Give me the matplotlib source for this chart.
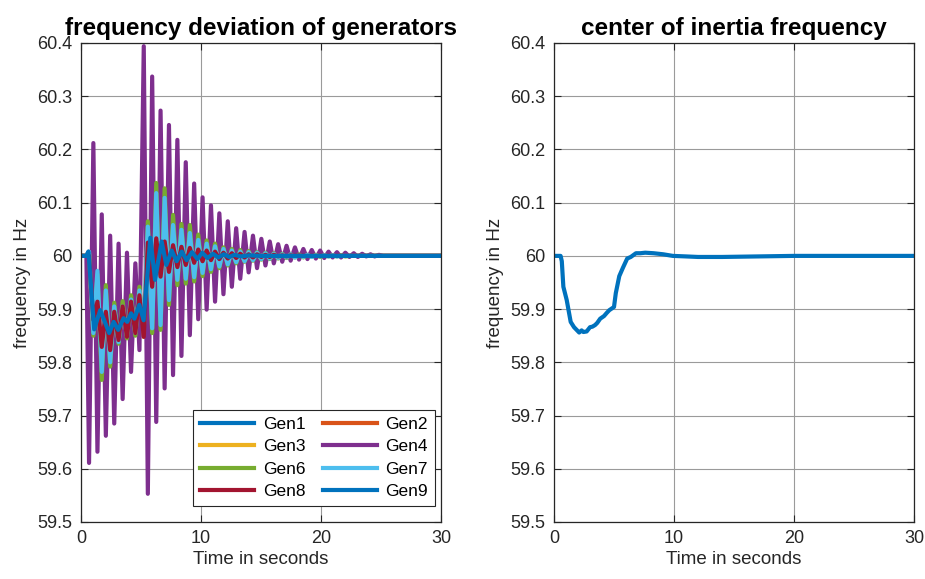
import numpy as np
import matplotlib
matplotlib.use("Agg")
import matplotlib.pyplot as plt

plt.rcParams['font.family'] = ['Liberation Sans', 'DejaVu Sans']

# ---------------- data ----------------
# times of the electromechanical swing extremes (s)
t_hi = [1.03, 1.73, 2.43, 3.13, 3.83, 4.53, 5.23, 5.93, 6.63, 7.33, 8.03, 8.73,
        9.43, 10.13, 10.83, 11.53, 12.23, 12.93, 13.63, 14.33, 15.03, 15.73,
        16.43, 17.13, 17.83, 18.53, 19.23, 19.93, 20.63, 21.33, 22.03, 22.73,
        23.43, 24.13, 24.83]
t_lo = [0.67, 1.37, 2.07, 2.77, 3.47, 4.17, 4.87, 5.57, 6.27, 6.97, 7.67, 8.37,
        9.07, 9.77, 10.47, 11.17, 11.87, 12.57, 13.27, 13.97, 14.67, 15.37,
        16.07, 16.77, 17.47, 18.17, 18.87, 19.57, 20.27, 20.97, 21.67, 22.37,
        23.07, 23.77, 24.47, 25.17]
t_pre = [0.0, 0.45]
f_pre = [60.0, 60.0]
t_end = 30.0

# Gen4 (values at t_hi / t_lo)
gen4_hi = [60.212, 60.078, 60.038, 60.023, 60.006, 59.986, 60.394, 60.337, 60.273,
           60.246, 60.218, 60.176, 60.136, 60.110, 60.095, 60.080, 60.065, 60.052,
           60.045, 60.038, 60.032, 60.027, 60.022, 60.019, 60.016, 60.013, 60.011,
           60.010, 60.008, 60.007, 60.006, 60.005, 60.004, 60.003, 60.002]
gen4_lo = [59.611, 59.632, 59.662, 59.685, 59.731, 59.782, 59.823, 59.553, 59.688,
           59.751, 59.776, 59.812, 59.851, 59.881, 59.899, 59.914, 59.928, 59.942,
           59.957, 59.969, 59.977, 59.982, 59.986, 59.989, 59.991, 59.993, 59.994,
           59.995, 59.996, 59.997, 59.997, 59.998, 59.998, 59.999, 59.999, 60.000]

# Gen6
gen6_hi = [59.850, 59.767, 59.792, 59.835, 59.845, 59.850, 59.858, 59.855, 59.861,
           59.908, 59.945, 59.948, 59.952, 59.962, 59.970, 59.977, 59.982, 59.986,
           59.989, 59.991, 59.993, 59.994, 59.995, 59.996, 59.997, 59.997, 59.998,
           59.998, 59.999, 59.999, 59.999, 60.000, 60.000, 60.000, 60.000]
gen6_lo = [60.005, 59.965, 59.945, 59.912, 59.915, 59.926, 59.942, 60.065, 60.137,
           60.127, 60.077, 60.060, 60.058, 60.040, 60.029, 60.023, 60.016, 60.013,
           60.011, 60.009, 60.007, 60.006, 60.005, 60.004, 60.003, 60.003, 60.002,
           60.002, 60.001, 60.001, 60.001, 60.000, 60.000, 60.000, 60.000, 60.000]

# Gen7
gen7_hi = [59.855, 59.782, 59.800, 59.838, 59.850, 59.855, 59.862, 59.864, 59.870,
           59.917, 59.955, 59.957, 59.960, 59.968, 59.975, 59.980, 59.984, 59.988,
           59.990, 59.992, 59.994, 59.995, 59.996, 59.997, 59.997, 59.998, 59.998,
           59.999, 59.999, 59.999, 60.000, 60.000, 60.000, 60.000, 60.000]
gen7_lo = [60.008, 59.972, 59.935, 59.905, 59.905, 59.918, 59.935, 60.055, 60.118,
           60.109, 60.058, 60.049, 60.043, 60.030, 60.023, 60.018, 60.013, 60.010,
           60.008, 60.007, 60.006, 60.005, 60.004, 60.003, 60.003, 60.002, 60.002,
           60.001, 60.001, 60.001, 60.000, 60.000, 60.000, 60.000, 60.000, 60.000]

# Gen8
gen8_hi = [59.880, 59.829, 59.823, 59.842, 59.848, 59.855, 59.848, 59.942, 59.961,
           59.970, 59.979, 59.983, 59.987, 59.990, 59.992, 59.994, 59.995, 59.996,
           59.997, 59.997, 59.998, 59.998, 59.999, 59.999, 60.000, 60.000, 60.000,
           60.000, 60.000, 60.000, 60.000, 60.000, 60.000, 60.000, 60.000]
gen8_lo = [60.000, 59.914, 59.895, 59.895, 59.905, 59.914, 59.926, 60.025, 60.033,
           60.027, 60.020, 60.017, 60.015, 60.012, 60.010, 60.008, 60.006, 60.005,
           60.004, 60.003, 60.003, 60.002, 60.002, 60.001, 60.001, 60.001, 60.000,
           60.000, 60.000, 60.000, 60.000, 60.000, 60.000, 60.000, 60.000, 60.000]

# Gen2 / Gen3 lie underneath Gen8 in the reference
gen2_hi, gen2_lo = gen8_hi, gen8_lo
gen3_hi, gen3_lo = gen8_hi, gen8_lo

# Gen9 (and Gen1 underneath it)
gen9_t = [0.0, 0.45, 0.62, 1.10, 1.60, 2.35, 2.72, 3.10, 3.55, 3.85, 4.17, 4.45,
          4.86, 5.22, 5.78, 6.17, 6.72, 7.11, 7.56, 7.97, 8.40, 8.80, 9.25, 9.70,
          10.10, 10.55, 11.00, 11.45, 11.90, 12.35, 12.80, 13.30, 14.00, 15.00, 30.0]
gen9_f = [60.000, 60.000, 60.008, 59.862, 59.898, 59.855, 59.876, 59.861, 59.883,
          59.876, 59.892, 59.882, 59.908, 59.879, 60.034, 59.955, 60.027, 59.983,
          60.010, 59.990, 60.008, 59.992, 60.007, 59.994, 60.006, 59.996, 60.004,
          59.997, 60.003, 59.998, 60.002, 59.999, 60.001, 60.000, 60.000]
gen1_t, gen1_f = gen9_t, gen9_f

# centre of inertia frequency
coi_t = [0, 0.55, 0.65, 0.78, 1.06, 1.39, 1.67, 2.1, 2.3, 2.45, 2.72, 3.0, 3.2,
         3.42, 3.6, 3.85, 4.17, 4.4, 4.61, 5.0, 5.15, 5.44, 5.75, 6.1, 6.4, 6.83,
         7.2, 7.6, 8.3, 9.1, 9.9, 11, 12, 14, 17, 20, 25, 30]
coi_f = [60.0, 60.0, 59.99, 59.942, 59.917, 59.876, 59.866, 59.856, 59.86, 59.857,
         59.858, 59.866, 59.867, 59.870, 59.874, 59.882, 59.887, 59.893, 59.898,
         59.904, 59.93, 59.962, 59.978, 59.995, 59.998, 60.005, 60.005, 60.006,
         60.005, 60.003, 60.0, 59.999, 59.998, 59.998, 59.999, 60.0, 60.0, 60.0]

names = ['Gen1', 'Gen2', 'Gen3', 'Gen4', 'Gen6', 'Gen7', 'Gen8', 'Gen9']
colors = ['#0072BD', '#D95319', '#EDB120', '#7E2F8E', '#77AC30', '#4DBEEE',
          '#A2142F', '#0072BD']
yticks = [59.5, 59.6, 59.7, 59.8, 59.9, 60.0, 60.1, 60.2, 60.3, 60.4]
ytick_labels = ['59.5', '59.6', '59.7', '59.8', '59.9', '60', '60.1', '60.2',
                '60.3', '60.4']
xticks = [0, 10, 20, 30]


def swing_series(hi, lo):
    t = np.concatenate([t_pre, t_hi, t_lo, [t_end]])
    f = np.concatenate([f_pre, hi, lo, [60.0]])
    order = np.argsort(t, kind='stable')
    return t[order], f[order]


series = [
    (np.asarray(gen1_t), np.asarray(gen1_f)),
    swing_series(gen2_hi, gen2_lo),
    swing_series(gen3_hi, gen3_lo),
    swing_series(gen4_hi, gen4_lo),
    swing_series(gen6_hi, gen6_lo),
    swing_series(gen7_hi, gen7_lo),
    swing_series(gen8_hi, gen8_lo),
    (np.asarray(gen9_t), np.asarray(gen9_f)),
]

# ---------------- figure ----------------
fig = plt.figure(figsize=(9.25, 5.79), dpi=100)
ax1 = fig.add_axes([81 / 925, 1 - 522 / 579, 360 / 925, 479 / 579])
ax2 = fig.add_axes([554 / 925, 1 - 522 / 579, 360 / 925, 479 / 579])

LW = 3.0
handles = {}
for (t, f), name, c in zip(series, names, colors):
    h, = ax1.plot(t, f, color=c, lw=LW, label=name, solid_joinstyle='round')
    handles[name] = h

ax2.plot(coi_t, coi_f, color='#0072BD', lw=LW)


def style(ax, title):
    ax.set_xlim(0, 30)
    ax.set_ylim(59.5, 60.4)
    ax.set_xticks(xticks)
    ax.set_yticks(yticks)
    ax.set_yticklabels(ytick_labels)
    ax.grid(True, color='#9a9a9a', lw=0.8)
    ax.set_axisbelow(True)
    ax.tick_params(direction='in', length=5, width=0.8, colors='#262626',
                   labelsize=13, top=True, right=True, pad=6)
    for s in ax.spines.values():
        s.set_color('#262626')
        s.set_linewidth(0.9)
    ax.set_xlabel('Time in seconds', fontsize=13.5, color='#262626', labelpad=3)
    ax.set_ylabel('frequency in Hz', fontsize=13.5, color='#262626', labelpad=5)
    ax.set_title(title, fontsize=17.5, fontweight='bold', pad=6)


style(ax1, 'frequency deviation of generators')
style(ax2, 'center of inertia frequency')

order = ['Gen1', 'Gen3', 'Gen6', 'Gen8', 'Gen2', 'Gen4', 'Gen7', 'Gen9']
leg = ax1.legend([handles[n] for n in order], order, ncol=2, loc='lower right',
                 bbox_to_anchor=(0.983, 0.033), borderaxespad=0.0,
                 fontsize=12.5, frameon=True,
                 fancybox=False, edgecolor='#262626', framealpha=1,
                 handlelength=3.1, columnspacing=1.0, handletextpad=0.5,
                 labelspacing=0.42, borderpad=0.4)
leg.get_frame().set_linewidth(0.8)

fig.savefig('out.png', dpi=100)
